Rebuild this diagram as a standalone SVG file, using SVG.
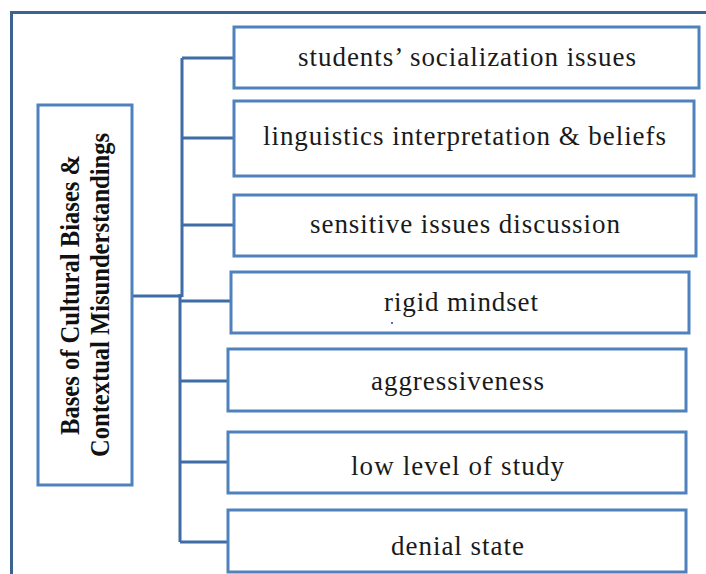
<svg xmlns="http://www.w3.org/2000/svg" width="706" height="574" viewBox="0 0 706 574">
<style>
.box{fill:#fff;stroke:#4F81BD;stroke-width:3}
.conn{fill:none;stroke:#3F6CA6;stroke-width:3}
.frame{fill:none;stroke:#3D6391;stroke-width:3}
.lbl{font-family:"Liberation Serif","Times New Roman",serif;font-size:27px;fill:#1a1a1a;text-anchor:middle}
.title{font-family:"Liberation Serif","Times New Roman",serif;font-size:28px;font-weight:bold;fill:#111;text-anchor:middle}
</style>
<rect width="706" height="574" fill="#fff"/>
<path class="frame" d="M11.5,580 V12.5 H712"/>
<g id="connectors">
<path class="conn" d="M132,296 H182 M182,58 V297 M180,294 V542"/>
<path class="conn" d="M182,58 H234 M182,138 H234 M182,225 H234 M180,301 H231 M180,381 H228 M180,462 H228 M180,542 H228"/>
</g>
<g id="center">
<rect class="box" x="38" y="105" width="94" height="380"/>
<text class="title" transform="translate(79,295) rotate(-90)" textLength="280" lengthAdjust="spacingAndGlyphs">Bases of Cultural Biases &amp;</text>
<text class="title" transform="translate(109,295) rotate(-90)" textLength="324" lengthAdjust="spacingAndGlyphs">Contextual Misunderstandings</text>
</g>
<g id="n1">
<rect class="box" x="234" y="27" width="465" height="61"/>
<text class="lbl" x="467" y="66" textLength="338" lengthAdjust="spacing">students’ socialization issues</text>
</g>
<g id="n2">
<rect class="box" x="234" y="101" width="460" height="75"/>
<text class="lbl" x="464.5" y="145" textLength="403" lengthAdjust="spacing">linguistics interpretation &amp; beliefs</text>
</g>
<g id="n3">
<rect class="box" x="234" y="195" width="462" height="61"/>
<text class="lbl" x="465" y="233" textLength="310" lengthAdjust="spacing">sensitive issues discussion</text>
</g>
<g id="n4">
<rect class="box" x="231" y="272" width="458" height="61"/>
<text class="lbl" x="461" y="311" textLength="154" lengthAdjust="spacing">rigid mindset</text>
<circle cx="392" cy="323" r="1" fill="#2233dd"/>
</g>
<g id="n5">
<rect class="box" x="228" y="349" width="458" height="62"/>
<text class="lbl" x="457.5" y="390" textLength="173" lengthAdjust="spacing">aggressiveness</text>
</g>
<g id="n6">
<rect class="box" x="228" y="432" width="458" height="61"/>
<text class="lbl" x="457.5" y="475" textLength="213" lengthAdjust="spacing">low level of study</text>
</g>
<g id="n7">
<rect class="box" x="228" y="510" width="458" height="62"/>
<text class="lbl" x="457.5" y="555" textLength="133" lengthAdjust="spacing">denial state</text>
</g>
</svg>
